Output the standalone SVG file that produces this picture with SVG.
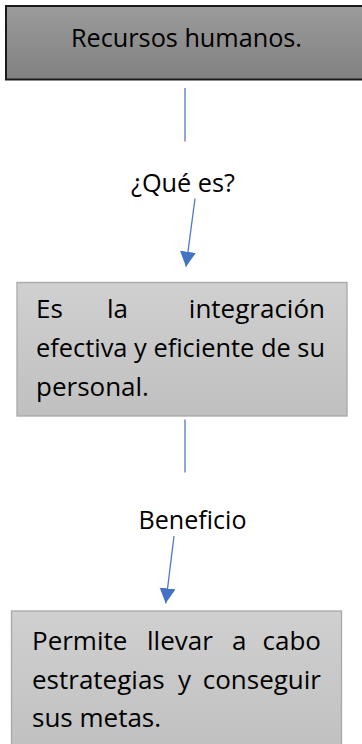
<svg xmlns="http://www.w3.org/2000/svg" width="362" height="744" viewBox="0 0 362 744">
  <defs>
    <linearGradient id="gDark" x1="0" y1="0" x2="0" y2="1">
      <stop offset="0" stop-color="#9b9b9b"/>
      <stop offset="1" stop-color="#818181"/>
    </linearGradient>
    <linearGradient id="gLight" x1="0" y1="0" x2="0" y2="1">
      <stop offset="0" stop-color="#d0d0d0"/>
      <stop offset="1" stop-color="#c0c0c0"/>
    </linearGradient>
    <marker id="arrow" markerUnits="userSpaceOnUse" markerWidth="16" markerHeight="17" refX="15" refY="8" orient="auto">
      <path d="M0,0 L15,8 L0,16 Z" fill="#4472c4"/>
    </marker>
    <style>
      .t { font-family: "Open Sans", "Noto Sans", "Liberation Sans", sans-serif; font-size: 26px; fill: #000000; }
      .light { fill: url(#gLight); stroke: #a8a8a8; stroke-width: 1.3; }
      .dark { fill: url(#gDark); stroke: #1a1a1a; stroke-width: 2; }
      .conn { stroke: #4d7acb; stroke-width: 1.3; fill: none; }
    </style>
  </defs>
  <rect width="362" height="744" fill="#ffffff"/>

  <g id="node-recursos">
    <rect class="dark" x="6" y="6" width="362" height="73.5"/>
    <text class="t" x="71" y="46.5" textLength="231" lengthAdjust="spacingAndGlyphs">Recursos humanos.</text>
  </g>

  <g id="node-definicion">
    <rect class="light" x="17" y="282.5" width="330" height="133.5"/>
    <text class="t" x="36" y="318">Es</text>
    <text class="t" x="107" y="318">la</text>
    <text class="t" x="325" y="318" text-anchor="end">integración</text>
    <text class="t" x="36" y="357" textLength="289" lengthAdjust="spacingAndGlyphs">efectiva y eficiente de su</text>
    <text class="t" x="36" y="396">personal.</text>
  </g>

  <g id="node-beneficio">
    <rect class="light" x="11.5" y="611" width="330" height="140"/>
    <text class="t" x="32" y="650">Permite</text>
    <text class="t" x="147" y="650">llevar</text>
    <text class="t" x="232" y="650">a</text>
    <text class="t" x="321" y="650" text-anchor="end">cabo</text>
    <text class="t" x="32" y="688.5">estrategias</text>
    <text class="t" x="178" y="688.5">y</text>
    <text class="t" x="321" y="688.5" text-anchor="end">conseguir</text>
    <text class="t" x="32" y="727">sus metas.</text>
  </g>

  <g id="connectors">
    <line class="conn" x1="185" y1="88" x2="185" y2="141.5"/>
    <text class="t" x="131" y="191.5" textLength="104" lengthAdjust="spacingAndGlyphs">¿Qué es?</text>
    <line class="conn" x1="195" y1="198.5" x2="186" y2="266.7" marker-end="url(#arrow)"/>
    <line class="conn" x1="185" y1="419.5" x2="185" y2="472.5"/>
    <text class="t" x="138.5" y="529" textLength="108" lengthAdjust="spacingAndGlyphs">Beneficio</text>
    <line class="conn" x1="174" y1="536" x2="165.7" y2="603.3" marker-end="url(#arrow)"/>
  </g>
</svg>
